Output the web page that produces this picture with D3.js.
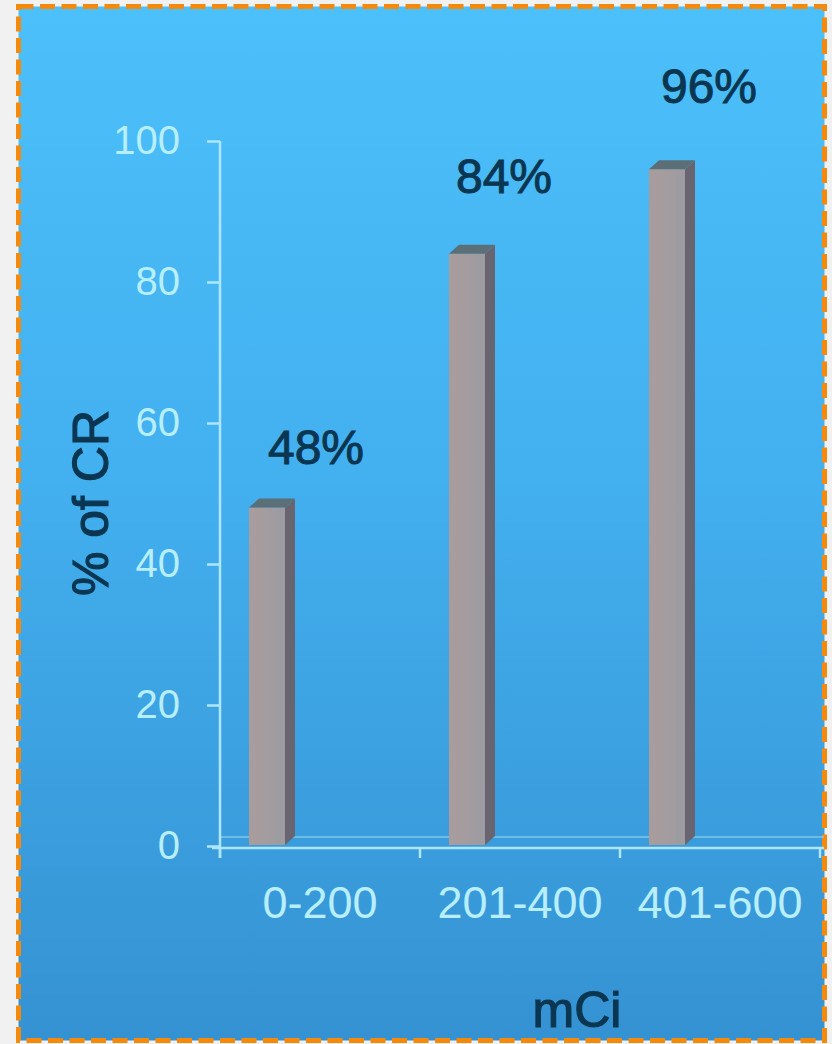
<!DOCTYPE html>
<html>
<head>
<meta charset="utf-8">
<script src="https://cdn.jsdelivr.net/npm/d3@7/dist/d3.min.js"></script>
<style>
  html, body { margin: 0; padding: 0; background: #f1f1f1; }
  svg { display: block; }
  text { font-family: "Liberation Sans", Arial, sans-serif; }
</style>
</head>
<body>
<svg id="chart" width="832" height="1044"></svg>
<script>
// Complete-response rate by administered activity
const categories = ["0-200", "201-400", "401-600"];
const crRate = [48, 84, 96];
const valueLabels = ["48%", "84%", "96%"];
const yTicks = [0, 20, 40, 60, 80, 100];
const yTitle = "% of CR";
const xTitle = "mCi";

const W = 832, H = 1044;
const svg = d3.select("#chart");

// Panel background with vertical gradient
const defs = svg.append("defs");
const grad = defs.append("linearGradient")
  .attr("id", "panelGrad").attr("x1", 0).attr("y1", 0).attr("x2", 0).attr("y2", 1);
grad.append("stop").attr("offset", "0%").attr("stop-color", "#4cc0fa");
grad.append("stop").attr("offset", "45%").attr("stop-color", "#43b0ef");
grad.append("stop").attr("offset", "100%").attr("stop-color", "#3592d2");

// Front-face shading of the columns
const barGrad = defs.append("linearGradient")
  .attr("id", "barGrad").attr("x1", 0).attr("y1", 0).attr("x2", 1).attr("y2", 0);
barGrad.append("stop").attr("offset", "0%").attr("stop-color", "#aa9c9c");
barGrad.append("stop").attr("offset", "100%").attr("stop-color", "#9c9ca2");

svg.append("rect").attr("width", W).attr("height", H).attr("fill", "#f1f1f1");
svg.append("rect")
  .attr("x", 18.5).attr("y", 6.5).attr("width", 806).attr("height", 1034)
  .attr("fill", "url(#panelGrad)")
  .attr("stroke", "#f5890c").attr("stroke-width", 5)
  .attr("stroke-dasharray", "15 6.5");

// Scales
const x = d3.scaleBand().domain(categories).range([220, 820]).padding(0);
const y = d3.scaleLinear().domain([0, 100]).range([846, 141]);

const axisColor = "#aee6ff";
const tickText = "#b8efff";
const darkText = "#0b3651";

// Back floor edge of the 3D plot area
svg.append("line")
  .attr("x1", 220).attr("x2", 824)
  .attr("y1", y(0) - 9).attr("y2", y(0) - 9)
  .attr("stroke", "#8fd0f2").attr("stroke-width", 2).attr("opacity", 0.6);

// Y axis
const yAxis = d3.axisLeft(y).tickValues(yTicks).tickSize(13).tickPadding(27);
const gy = svg.append("g").attr("transform", "translate(220,0)").call(yAxis);
gy.select(".domain").remove();
gy.append("line").attr("x1", 0).attr("x2", 0).attr("y1", y(100)).attr("y2", y(0) + 12)
  .attr("stroke", axisColor).attr("stroke-width", 2.5);
gy.selectAll(".tick line").attr("stroke", axisColor).attr("stroke-width", 2.5);
gy.selectAll(".tick text")
  .attr("fill", tickText).attr("font-size", 40)
  .attr("font-family", "'Liberation Sans', Arial, sans-serif");

// X axis
const xAxis = d3.axisBottom(x).tickSize(0).tickPadding(0);
const gx = svg.append("g").attr("transform", `translate(0,${y(0) + 2})`).call(xAxis);
gx.select(".domain").remove();
gx.append("line").attr("x1", 212).attr("x2", 824).attr("y1", 0).attr("y2", 0)
  .attr("stroke", axisColor).attr("stroke-width", 2.5);
// Category boundary ticks
const bounds = categories.map(d => x(d)).concat([x.range()[1]]);
gx.selectAll(".bound").data(bounds).join("line")
  .attr("class", "bound")
  .attr("x1", d => d).attr("x2", d => d)
  .attr("y1", 0).attr("y2", 10)
  .attr("stroke", axisColor).attr("stroke-width", 2.5);
gx.selectAll(".tick text")
  .attr("fill", tickText).attr("font-size", 45)
  .attr("font-family", "'Liberation Sans', Arial, sans-serif")
  .attr("dy", 0).attr("y", 70);

// 3D-style columns
const barOffset = 29, barW = 36, depthX = 10, depthY = 9;
const bars = svg.append("g").selectAll("g").data(categories).join("g");
bars.append("rect")
  .attr("x", d => x(d) + barOffset)
  .attr("y", (d, i) => y(crRate[i]))
  .attr("width", barW)
  .attr("height", (d, i) => y(0) - y(crRate[i]) - 1)
  .attr("fill", "url(#barGrad)");
bars.append("path")
  .attr("d", (d, i) => {
    const x0 = x(d) + barOffset + barW, yt = y(crRate[i]), yb = y(0) - 1;
    return `M${x0},${yt} L${x0 + depthX},${yt - depthY} L${x0 + depthX},${yb - depthY} L${x0},${yb} Z`;
  })
  .attr("fill", "#686470");
bars.append("path")
  .attr("d", (d, i) => {
    const x0 = x(d) + barOffset, yt = y(crRate[i]);
    return `M${x0},${yt} L${x0 + depthX},${yt - depthY} L${x0 + barW + depthX},${yt - depthY} L${x0 + barW},${yt} Z`;
  })
  .attr("fill", "#5d6f76");

// Value labels above columns (hand-placed nudges relative to band centre / bar top)
const labelNudge = [[-4, -44], [-16, -61], [-11, -66]];
svg.append("g").selectAll("text").data(categories).join("text")
  .attr("x", (d, i) => x(d) + x.bandwidth() / 2 + labelNudge[i][0])
  .attr("y", (d, i) => y(crRate[i]) + labelNudge[i][1])
  .attr("text-anchor", "middle")
  .attr("font-size", 48)
  .attr("fill", darkText)
  .attr("stroke", darkText).attr("stroke-width", 1)
  .text((d, i) => valueLabels[i]);

// Axis titles
svg.append("text")
  .attr("transform", "translate(108,503) rotate(-90)")
  .attr("text-anchor", "middle")
  .attr("font-size", 50)
  .attr("fill", darkText)
  .attr("stroke", darkText).attr("stroke-width", 1.2)
  .text(yTitle);

svg.append("text")
  .attr("x", 577).attr("y", 1027)
  .attr("text-anchor", "middle")
  .attr("font-size", 50)
  .attr("fill", darkText)
  .attr("stroke", darkText).attr("stroke-width", 1.2)
  .text(xTitle);
</script>
</body>
</html>
